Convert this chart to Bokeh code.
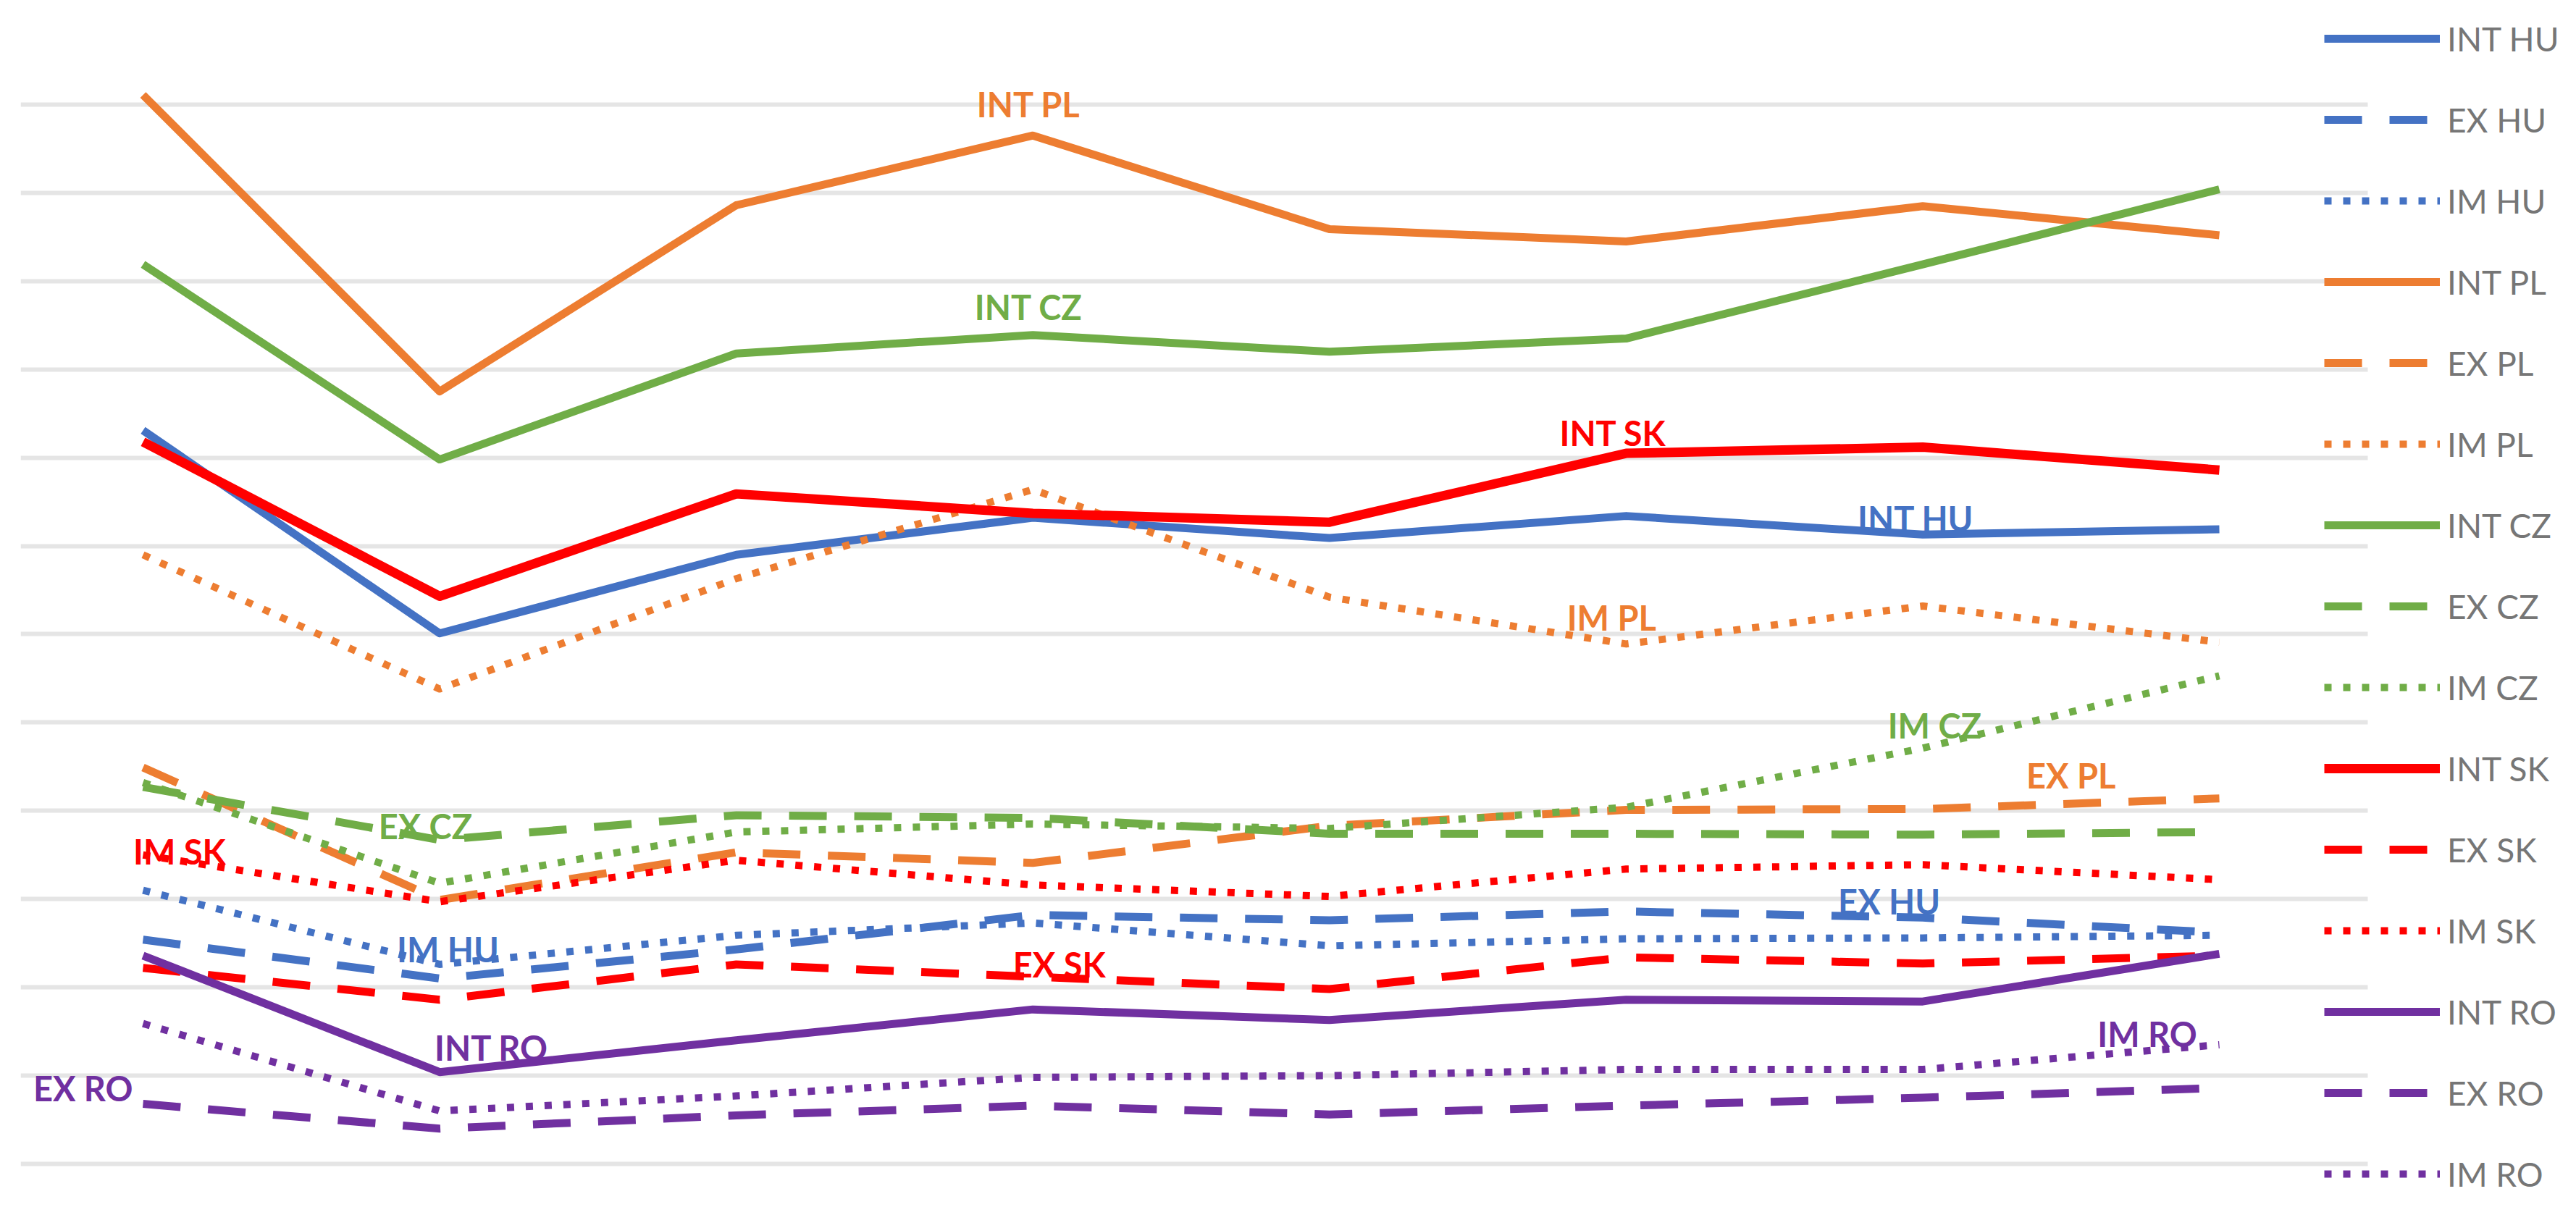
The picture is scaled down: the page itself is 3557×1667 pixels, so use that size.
from bokeh.plotting import figure
from bokeh.models import Legend, LegendItem, FixedTicker, Range1d
from bokeh.core.properties import value
from bokeh.embed import file_html
from bokeh.resources import INLINE

# ---- data (y in gridline units) ----
periods = ["1", "2", "3", "4", "5", "6", "7", "8"]

INT_HU = [8.31, 6.01, 6.90, 7.32, 7.09, 7.34, 7.13, 7.19]
EX_HU = [2.54, 2.10, 2.43, 2.82, 2.76, 2.86, 2.79, 2.62]
IM_HU = [3.10, 2.26, 2.59, 2.73, 2.47, 2.55, 2.56, 2.59]
INT_PL = [12.11, 8.75, 10.86, 11.65, 10.59, 10.45, 10.85, 10.52]
EX_PL = [4.49, 2.99, 3.53, 3.41, 3.83, 4.01, 4.02, 4.14]
IM_PL = [6.90, 5.38, 6.63, 7.64, 6.42, 5.89, 6.32, 5.91]
INT_CZ = [10.19, 7.98, 9.18, 9.39, 9.20, 9.35, 10.19, 11.04]
EX_CZ = [4.27, 3.67, 3.95, 3.92, 3.74, 3.74, 3.73, 3.76]
IM_CZ = [4.32, 3.18, 3.76, 3.85, 3.80, 4.04, 4.71, 5.53]
INT_SK = [8.18, 6.43, 7.59, 7.37, 7.27, 8.05, 8.12, 7.86]
EX_SK = [2.22, 1.86, 2.26, 2.12, 1.98, 2.34, 2.27, 2.36]
IM_SK = [3.50, 2.97, 3.44, 3.16, 3.03, 3.34, 3.39, 3.22]
INT_RO = [2.36, 1.04, 1.40, 1.75, 1.63, 1.86, 1.84, 2.38]
EX_RO = [0.68, 0.40, 0.55, 0.66, 0.56, 0.66, 0.75, 0.86]
IM_RO = [1.59, 0.60, 0.77, 0.98, 1.00, 1.07, 1.07, 1.35]

series_names = ["INT HU", "EX HU", "IM HU", "INT PL", "EX PL", "IM PL",
                "INT CZ", "EX CZ", "IM CZ", "INT SK", "EX SK", "IM SK",
                "INT RO", "EX RO", "IM RO"]
series_values = [INT_HU, EX_HU, IM_HU, INT_PL, EX_PL, IM_PL,
                 INT_CZ, EX_CZ, IM_CZ, INT_SK, EX_SK, IM_SK,
                 INT_RO, EX_RO, IM_RO]

# in-chart labels
label_texts = ["INT PL", "INT CZ", "INT SK", "INT HU", "IM PL", "IM CZ", "EX PL",
               "EX CZ", "IM SK", "EX HU", "IM HU", "EX SK", "INT RO", "IM RO", "EX RO"]

# ---- styles ----
country_colors = {"HU": "#4472C4", "PL": "#ED7D31", "CZ": "#70AD47",
                  "SK": "#FF0000", "RO": "#7030A0"}
kind_dash = {"INT": "solid", "EX": "52 38", "IM": "10 16"}
kind_width = {"INT": 11, "EX": 11, "IM": 10}

label_x = [2.986, 2.986, 4.956, 5.977, 4.951, 6.04, 6.50,
           0.952, 0.123, 5.887, 1.028, 3.089, 1.175, 6.757, -0.202]
label_y = [12.0, 9.71, 8.28, 7.31, 6.19, 4.97, 4.40,
           3.83, 3.54, 2.97, 2.43, 2.26, 1.32, 1.47, 0.86]

X0, X1, XG = -0.4126, 8.1646, 7.5
W, H = 3541, 1651
p = figure(width=W, height=H, output_backend="svg", toolbar_location=None,
           x_range=Range1d(X0, X1), y_range=Range1d(-0.361, 13.181),
           min_border_left=28, min_border_right=0,
           min_border_top=0, min_border_bottom=0)
p.outline_line_color = None
p.xaxis.visible = False
p.yaxis.visible = False
p.xgrid.visible = False
p.ygrid.ticker = FixedTicker(ticks=list(range(13)))
p.ygrid.grid_line_color = "#E5E5E5"
p.ygrid.grid_line_width = 6
p.ygrid.cross_bounds = (X0, XG)

xs = list(range(len(periods)))
items = []
for name, vals in zip(series_names, series_values):
    kind, country = name.split()
    w = kind_width[kind]
    if name == "INT SK":
        w = 13
    r = p.line(xs, vals, line_color=country_colors[country],
               line_width=w, line_dash=kind_dash[kind], line_join="round")
    items.append(LegendItem(label=name, renderers=[r]))

font = value("Lato")
for t, lx, ly in zip(label_texts, label_x, label_y):
    country = t.split()[1]
    p.text(x=[lx], y=[ly], text=[t], text_color=country_colors[country],
           text_font=font, text_font_style="bold", text_font_size="47px",
           text_align="center", text_baseline="alphabetic")

legend = Legend(items=items, location=(3181, 0),
                glyph_width=160, glyph_height=60, label_height=60,
                spacing=52, padding=0, margin=0, label_standoff=10,
                border_line_color=None, background_fill_alpha=0,
                label_text_font="Lato", label_text_font_size="46px",
                label_text_color="#767676")
p.add_layout(legend, "center")

open("out.html", "w").write(file_html(p, INLINE))
